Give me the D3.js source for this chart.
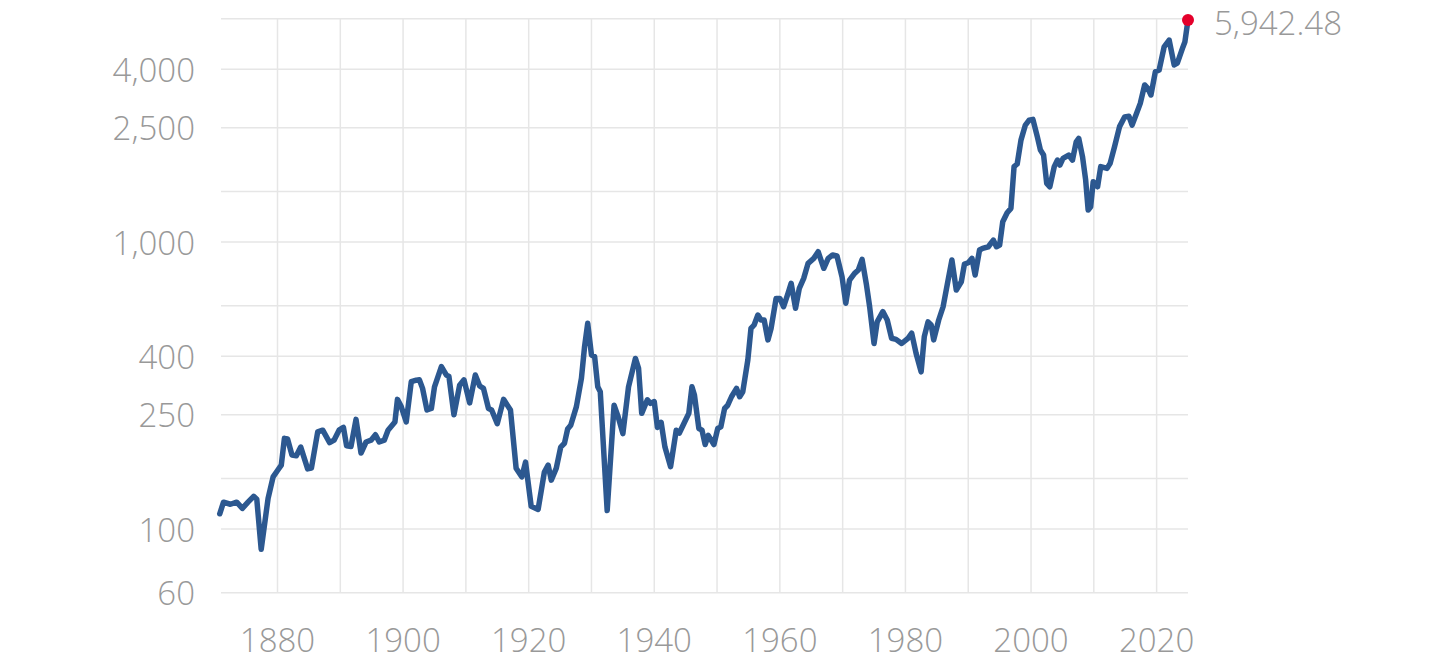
<!DOCTYPE html>
<html>
<head>
<meta charset="utf-8">
<script src="https://cdn.jsdelivr.net/npm/d3@7"></script>
<style>
  html, body { margin: 0; padding: 0; background: #fff; }
  svg text { font-family: "Open Sans", "Noto Sans", Roboto, sans-serif; font-weight: 300; fill: #999; }
</style>
</head>
<body>
<svg id="chart" width="1456" height="672"></svg>
<script>
const years = [1870.8,1871.4,1872.5,1873.5,1874.4,1875.3,1876.2,1876.7,1877.4,1878.5,1879.3,1880.0,1880.6,1881.1,1881.6,1882.3,1883.0,1883.7,1884.8,1885.4,1886.4,1887.2,1888.3,1889.0,1889.8,1890.5,1891.0,1891.7,1892.5,1893.3,1894.1,1894.9,1895.6,1896.2,1897.0,1897.6,1898.7,1899.1,1899.7,1900.5,1901.3,1902.1,1902.6,1903.1,1903.8,1904.5,1905.0,1906.1,1906.9,1907.3,1908.1,1909.0,1909.7,1910.6,1911.5,1912.2,1912.8,1913.6,1914.1,1915.0,1916.0,1917.1,1918.0,1918.9,1919.5,1920.4,1921.5,1922.5,1923.1,1923.6,1924.4,1925.1,1925.7,1926.2,1926.7,1927.6,1928.4,1928.9,1929.4,1930.0,1930.5,1931.0,1931.4,1932.5,1933.6,1934.2,1935.0,1935.9,1937.0,1937.5,1938.0,1938.9,1939.4,1940.0,1940.5,1941.1,1941.7,1942.6,1943.5,1944.0,1944.8,1945.5,1946.0,1946.4,1947.1,1947.6,1948.1,1948.6,1949.5,1950.1,1950.6,1951.2,1951.7,1952.3,1953.1,1953.6,1954.1,1954.9,1955.4,1955.9,1956.5,1957.0,1957.5,1958.1,1958.6,1959.4,1960.0,1960.6,1961.3,1961.8,1962.5,1963.1,1963.8,1964.5,1965.4,1966.1,1967.0,1967.7,1968.4,1969.1,1969.9,1970.5,1971.1,1971.9,1972.5,1973.1,1973.8,1974.3,1975.0,1975.5,1976.4,1977.1,1977.8,1978.5,1979.4,1980.4,1981.0,1981.7,1982.5,1983.0,1983.6,1984.1,1984.5,1985.3,1986.0,1986.7,1987.4,1988.1,1988.9,1989.4,1990.0,1990.6,1991.1,1991.8,1992.3,1993.2,1994.0,1994.5,1995.0,1995.5,1996.2,1996.8,1997.3,1997.8,1998.4,1999.1,1999.7,2000.3,2001.0,2001.5,2002.0,2002.5,2003.0,2003.7,2004.2,2004.6,2005.1,2006.0,2006.6,2007.2,2007.6,2008.2,2008.7,2009.1,2009.5,2009.9,2010.6,2011.1,2012.1,2012.6,2013.3,2014.1,2014.9,2015.6,2016.1,2016.8,2017.4,2018.1,2018.6,2019.1,2019.8,2020.4,2021.2,2022.0,2022.8,2023.3,2024.2,2024.5,2025.0];
const values = [113,124,122,124,118,124,130,127,85,128,152,160,167,207,206,181,180,193,162,163,218,221,200,204,221,226,195,194,241,184,201,204,213,201,204,221,236,283,267,236,326,330,331,309,260,263,313,368,344,340,250,317,331,275,344,315,309,263,260,233,283,260,163,152,171,120,117,158,167,148,163,193,199,223,230,267,335,432,521,404,399,313,301,116,270,248,215,313,393,363,253,282,274,278,226,235,193,165,221,216,235,253,313,293,224,221,197,212,197,224,227,263,270,289,309,289,301,388,500,514,557,535,535,456,500,636,636,595,662,718,588,690,747,843,877,925,810,877,901,894,757,612,737,778,799,870,708,595,443,527,572,535,462,458,443,462,481,409,353,468,527,514,456,535,595,718,866,680,727,838,847,877,768,938,951,963,1016,963,976,1177,1265,1310,1831,1870,2265,2556,2659,2675,2329,2091,2010,1601,1558,1831,1930,1854,1958,2010,1930,2235,2297,1983,1645,1293,1327,1623,1558,1831,1805,1880,2147,2524,2728,2742,2556,2806,3041,3526,3433,3254,3919,3974,4785,5054,4139,4199,4785,4976,5942.48];

const yGridValues = [60,100,150,250,400,600,1000,1500,2500,4000,6000];
const yTickLabels = [60,100,250,400,1000,2500,4000];
const xGridYears = [1880,1890,1900,1910,1920,1930,1940,1950,1960,1970,1980,1990,2000,2010,2020];
const xTickLabels = [1880,1900,1920,1940,1960,1980,2000,2020];
const lastLabel = "5,942.48";

const svg = d3.select("#chart");
const plotLeft = 221, plotRight = 1188, plotTop = 18.7, plotBottom = 592.7;

const x = d3.scaleLinear().domain([1871, 2025]).range([plotLeft, plotRight]);
const y = d3.scaleLog().domain([60, 6000]).range([plotBottom, plotTop]);

const grid = svg.append("g");
grid.selectAll("line.h").data(yGridValues).join("line")
  .attr("class", "h")
  .attr("x1", plotLeft).attr("x2", plotRight)
  .attr("y1", d => y(d)).attr("y2", d => y(d))
  .attr("stroke", "#e6e6e6").attr("stroke-width", 1.5);
grid.selectAll("line.v").data(xGridYears).join("line")
  .attr("class", "v")
  .attr("x1", d => x(d)).attr("x2", d => x(d))
  .attr("y1", plotTop).attr("y2", plotBottom)
  .attr("stroke", "#e6e6e6").attr("stroke-width", 1.5);

const fmt = d3.format(",");
svg.append("g").selectAll("text").data(yTickLabels).join("text")
  .attr("x", 195).attr("y", d => y(d))
  .attr("text-anchor", "end").attr("dominant-baseline", "central")
  .attr("font-size", 33)
  .text(d => fmt(d));

svg.append("g").selectAll("text").data(xTickLabels).join("text")
  .attr("x", d => x(d)).attr("y", 639)
  .attr("text-anchor", "middle").attr("dominant-baseline", "central")
  .attr("font-size", 33)
  .text(d => d);

const data = years.map((yr, i) => ({ yr, v: values[i] }));
const line = d3.line().x(d => x(d.yr)).y(d => y(d.v));
svg.append("path").datum(data)
  .attr("d", line)
  .attr("fill", "none")
  .attr("stroke", "#2c5890")
  .attr("stroke-width", 5.5)
  .attr("stroke-linejoin", "round")
  .attr("stroke-linecap", "round");

const last = data[data.length - 1];
svg.append("circle")
  .attr("cx", x(last.yr)).attr("cy", y(last.v)).attr("r", 6)
  .attr("fill", "#e4002b");

svg.append("text")
  .attr("x", x(last.yr) + 26).attr("y", y(last.v) + 3)
  .attr("dominant-baseline", "central")
  .attr("font-size", 33)
  .text(lastLabel);
</script>
</body>
</html>
